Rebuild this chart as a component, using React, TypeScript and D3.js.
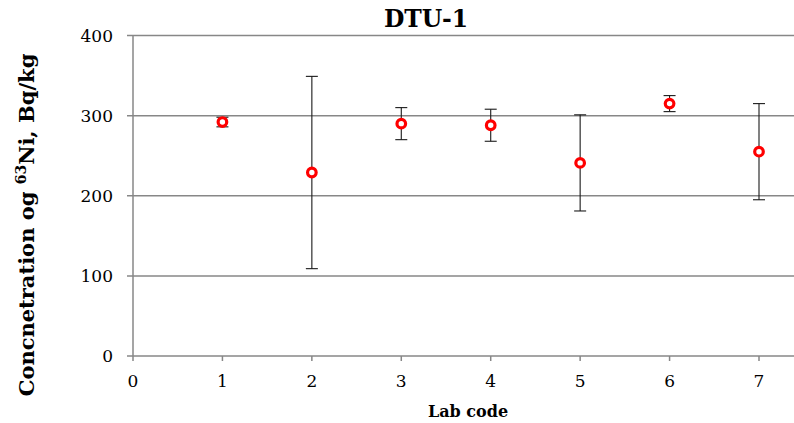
import React from "react";
import * as d3 from "d3";

const labCodes = [1, 2, 3, 4, 5, 6, 7];
const concentrations = [292, 229, 290, 288, 241, 315, 255];
const uncertainties = [6, 120, 20, 20, 60, 10, 60];
const yTicks = [0, 100, 200, 300, 400];
const xTicks = [0, 1, 2, 3, 4, 5, 6, 7];

const W = 794;
const H = 423;
const M = { left: 133, right: 0, top: 35.5, bottom: 67 };

export default function App() {
  const x = d3.scaleLinear().domain([0, 7]).range([M.left, 759]);
  const y = d3.scaleLinear().domain([0, 400]).range([H - M.bottom - 0, M.top]);
  const y0 = y(0);
  const grid = "#878787";
  const font = "'DejaVu Serif', serif";
  return (
    <svg width={W} height={H} style={{ position: "absolute", left: 0, top: 0, background: "#fff" }}>
      <rect x={0} y={0} width={W} height={H} fill="#fff" />
      {yTicks.map((t) => (
        <g key={"y" + t}>
          <line x1={M.left - 6} x2={W} y1={y(t)} y2={y(t)} stroke={grid} strokeWidth={1.5} />
          <text x={113} y={y(t)} dy="0.36em" textAnchor="end" fontFamily={font} fontSize={17} fill="#000">
            {t}
          </text>
        </g>
      ))}
      <line x1={M.left} x2={M.left} y1={M.top} y2={y0} stroke={grid} strokeWidth={1.5} />
      {xTicks.map((t) => (
        <g key={"x" + t}>
          <line x1={x(t)} x2={x(t)} y1={y0} y2={y0 + 5} stroke={grid} strokeWidth={1.5} />
          <text x={x(t)} y={387} textAnchor="middle" fontFamily={font} fontSize={17} fill="#000">
            {t}
          </text>
        </g>
      ))}
      {labCodes.map((c, i) => {
        const cx = x(c);
        const top = y(concentrations[i] + uncertainties[i]);
        const bot = y(concentrations[i] - uncertainties[i]);
        return (
          <g key={"e" + c} stroke="#1a1a1a" strokeWidth={1.1}>
            <line x1={cx} x2={cx} y1={top} y2={bot} />
            <line x1={cx - 6} x2={cx + 6} y1={top} y2={top} />
            <line x1={cx - 6} x2={cx + 6} y1={bot} y2={bot} />
          </g>
        );
      })}
      {labCodes.map((c, i) => (
        <circle
          key={"p" + c}
          cx={x(c)}
          cy={y(concentrations[i])}
          r={4.3}
          fill="#fff"
          stroke="#ff0000"
          strokeWidth={3.2}
        />
      ))}
      <text x={426} y={27} textAnchor="middle" fontFamily={font} fontWeight="bold" fontSize={23.5} fill="#000">
        DTU-1
      </text>
      <text x={468} y={417} textAnchor="middle" fontFamily={font} fontWeight="bold" fontSize={16} fill="#000">
        Lab code
      </text>
      <text
        transform={`translate(34, 225) rotate(-90)`}
        textAnchor="middle"
        fontFamily={font}
        fontWeight="bold"
        fontSize={21}
        fill="#000"
      >
        Concnetration og <tspan dy={-8} fontSize={14}>63</tspan>
        <tspan dy={8}>Ni, Bq/kg</tspan>
      </text>
    </svg>
  );
}
